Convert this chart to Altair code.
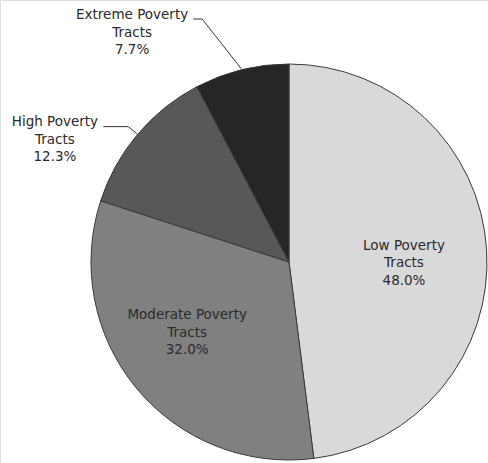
import numpy as np
import pandas as pd
import altair as alt

# ---- data ----
categories = ["Low Poverty Tracts", "Moderate Poverty Tracts",
              "High Poverty Tracts", "Extreme Poverty Tracts"]
shares = [48.0, 32.0, 12.3, 7.7]

# ---- style / layout ----
fills = ["#d9d9d9", "#808080", "#585858", "#262626"]
CX, CY, R = 289, 262, 198
LINE_H = 17.5
# label placement (polar, relative to slice mid-angle)
label_r = [115, 124, 264, 278]
label_dtheta = [4.1, 4.8, -12.6, -20.5]
outside = [False, False, True, True]
elbow_r = [None, None, 210, 258]
elbow_dtheta = [None, None, 0.0, -5.8]
tail = [None, None, 25, 9]

df = pd.DataFrame({"category": categories, "share": shares,
                   "idx": range(len(categories))})
total = sum(shares)
ends = np.cumsum(shares) / total * 360.0
starts = ends - np.array(shares) / total * 360.0
mids = (starts + ends) / 2


def pt(r, deg):
    a = np.deg2rad(deg)
    return CX + r * np.sin(a), CY - r * np.cos(a)


labels = []
lines = []
for i, cat in enumerate(categories):
    txt = cat.replace(" Tracts", "\nTracts") + "\n" + f"{shares[i]:.1f}%"
    lx, ly = pt(label_r[i], mids[i] + label_dtheta[i])
    labels.append({"label": txt, "x": lx, "y": ly})
    if outside[i]:
        ex, ey = pt(R + 1, mids[i])
        bx, by = pt(elbow_r[i], mids[i] + elbow_dtheta[i])
        tx, ty = bx - tail[i], by
        for k, (px, py) in enumerate([(ex, ey), (bx, by), (tx, ty)]):
            lines.append({"cat": cat, "k": k, "x": px, "y": py})

lab_df = pd.DataFrame(labels)
line_df = pd.DataFrame(lines)

arcs = alt.Chart(df).mark_arc(
    outerRadius=R, stroke="#3a3a3a", strokeWidth=1
).encode(
    theta=alt.Theta("share:Q", stack=True),
    order=alt.Order("idx:Q"),
    color=alt.Color("category:N",
                    scale=alt.Scale(domain=categories, range=fills),
                    legend=None),
    x=alt.value(CX),
    y=alt.value(CY),
)

leaders = alt.Chart(line_df).mark_line(
    color="#333333", strokeWidth=1
).encode(
    x=alt.X("x:Q", scale=None),
    y=alt.Y("y:Q", scale=None),
    detail="cat:N",
    order="k:Q",
)

text = alt.Chart(lab_df).mark_text(
    lineBreak="\n", font="DejaVu Sans", fontSize=13.5, lineHeight=LINE_H,
    color="#2a2a2a", align="center", baseline="middle", dy=-LINE_H
).encode(
    x=alt.X("x:Q", scale=None),
    y=alt.Y("y:Q", scale=None),
    text="label:N",
)

chart = alt.layer(arcs, leaders, text).properties(
    width=488, height=463,
    autosize=alt.AutoSizeParams(type="none"),
    padding=0,
).configure_view(stroke=None).configure(background="white")

chart.save("out.html", embed_options={"renderer": "svg", "actions": False})
